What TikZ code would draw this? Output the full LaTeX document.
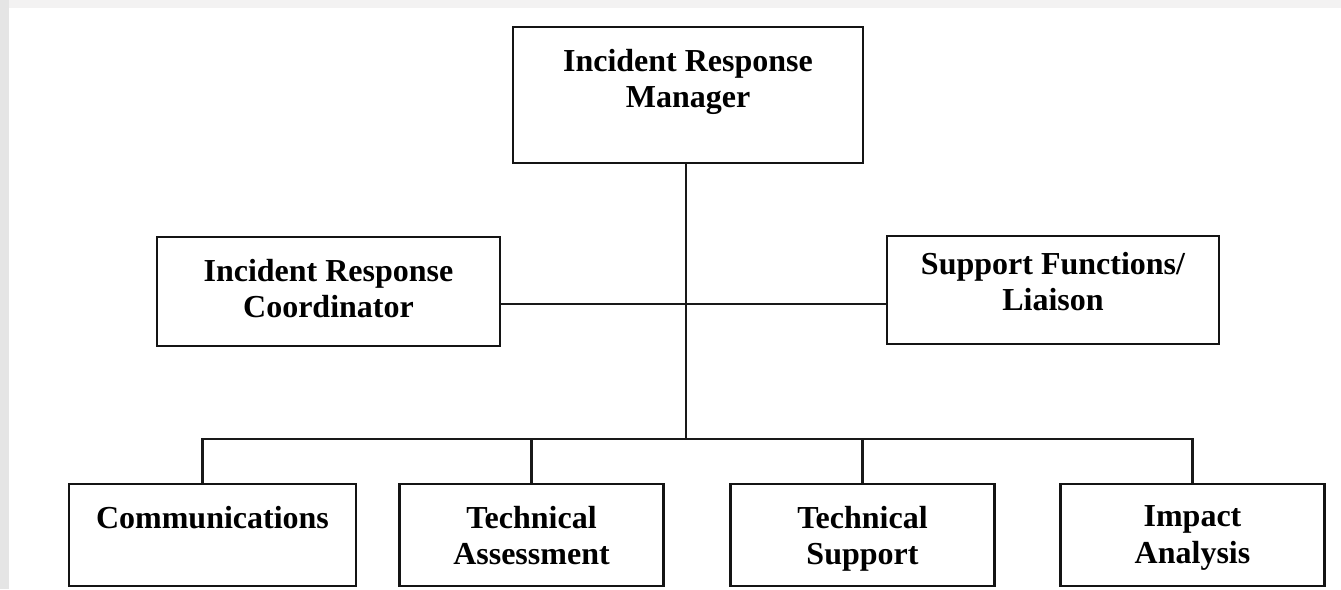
\documentclass[tikz,border=0pt]{standalone}
\usepackage{fontspec}
\setmainfont{Liberation Serif}
\begin{document}
\begin{tikzpicture}[x=1pt,y=-1pt,
  box/.style={draw=black!92,line width=2.4pt,fill=white,rectangle,inner sep=0pt},
  lbl/.style={anchor=north,inner sep=0pt,align=center,text=black,
    font=\fontsize{32}{36.5}\selectfont\bfseries},
  wire/.style={draw=black!90,line width=2.2pt,line join=miter}]
  % page backdrop
  \fill[black!10] (0,0) rectangle (1341,589);
  \fill[red!2!black!5] (9,0) rectangle (1341,8);
  \fill[white] (9,8) rectangle (1341,589);
  \useasboundingbox (0,0) rectangle (1341,589);

  % boxes
  \node[box,minimum width=350pt,minimum height=136pt] (mgr)   at (688,95)    {};
  \node[box,minimum width=343pt,minimum height=109pt] (coord) at (328.5,291.5) {};
  \node[box,minimum width=332pt,minimum height=108pt] (supp)  at (1053,290)  {};
  \node[box,minimum width=287pt,minimum height=102pt] (comm)  at (212.5,535) {};
  \node[box,minimum width=264pt,minimum height=102pt] (ta)    at (531.5,535) {};
  \node[box,minimum width=264pt,minimum height=102pt] (ts)    at (862.5,535) {};
  \node[box,minimum width=264pt,minimum height=102pt] (ia)    at (1192.5,535) {};

  % labels
  \node[lbl] (mgr-t)   at ([yshift=-23pt]mgr.north)   {Incident Response\\Manager};
  \node[lbl] (coord-t) at ([yshift=-23pt]coord.north) {Incident Response\\Coordinator};
  \node[lbl] (supp-t)  at ([yshift=-17pt]supp.north)  {Support Functions/\\Liaison};
  \node[lbl] (comm-t)  at ([yshift=-23pt]comm.north)  {Communications};
  \node[lbl] (ta-t)    at ([yshift=-23pt]ta.north)    {Technical\\Assessment};
  \node[lbl] (ts-t)    at ([yshift=-23pt]ts.north)    {Technical\\Support};
  \node[lbl] (ia-t)    at ([yshift=-23pt]ia.north)    {Impact\\Analysis};

  % connectors
  \coordinate (mid) at (686,304);
  \coordinate (bus) at (686,439);
  \draw[wire] (mgr.south -| bus) -- (bus);
  \draw[wire] (coord.east |- mid) -- (supp.west |- mid);
  \draw[wire] ([xshift=-10pt]comm.north) |- (bus) -| (ia.north);
  \draw[wire] (ta.north) -- (ta.north |- bus);
  \draw[wire] (ts.north) -- (ts.north |- bus);
\end{tikzpicture}
\end{document}
